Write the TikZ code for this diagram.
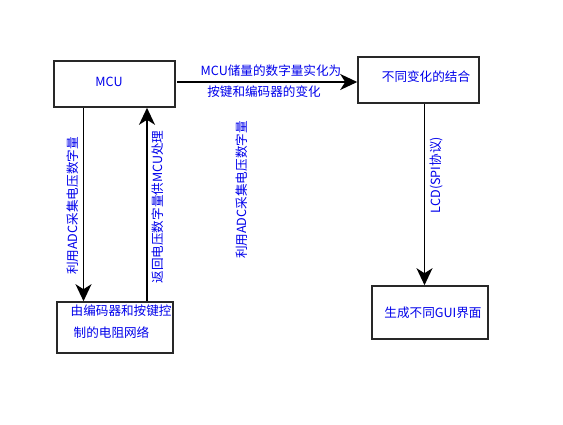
\documentclass[tikz,border=0pt]{standalone}
\usepackage{fontspec}
\setmainfont{Noto Sans CJK SC}
\usetikzlibrary{arrows.meta}
\definecolor{txtblue}{RGB}{0,0,235}
\definecolor{boxline}{RGB}{40,40,40}
\tikzset{
  box/.style={draw=boxline, line width=1.6pt, fill=white, rectangle, inner sep=0pt},
  lbl/.style={text=txtblue, font=\fontsize{12.6}{22}\selectfont, inner sep=0pt},
  arr/.style={line width=1.5pt, -{Stealth[length=17pt,width=16pt,inset=5pt]}},
}
\begin{document}
\begin{tikzpicture}[x=1pt,y=-1pt]
\useasboundingbox (0,0) rectangle (563,424);
% boxes
\node[box, minimum width=121pt, minimum height=46pt] (mcu) at (114.5,84) {};
\node[box, minimum width=121pt, minimum height=46pt] (comb) at (418.5,80) {};
\node[box, minimum width=116pt, minimum height=51pt] (ctrl) at (115,327.5) {};
\node[box, minimum width=116pt, minimum height=53pt] (gui) at (430,312.5) {};
% box texts
\node[lbl] (mcut) at (109,82) {MCU};
\node[lbl] (combt) at (426,77) {不同变化的结合};
\node[lbl, align=left, anchor=north west] (ctrlt) at (70.5,305) {由编码器和按键控\\\hspace{3pt}制的电阻网络};
\node[lbl] (guit) at (433,313) {生成不同GUI界面};
% helper coordinates
\coordinate (xdown) at (83.5,0);
\coordinate (xup) at (147,0);
\coordinate (xlcd) at (424.5,0);
\coordinate (hstart) at (177,82);
% connectors
\draw[arr] (hstart) -- (hstart -| comb.west);
\draw[arr] (mcu.south -| xdown) -- (ctrl.north -| xdown);
\draw[arr] (ctrl.north -| xup) -- (mcu.south -| xup);
\draw[arr] (comb.south -| xlcd) -- (gui.north -| xlcd);
% connector labels
\node[lbl] (toplbl1) at (271,71) {MCU储量的数字量实化为};
\node[lbl] (toplbl2) at (264,92) {按键和编码器的变化};
\node[lbl, rotate=90] (adcl) at (73,206) {利用ADC采集电压数字量};
\node[lbl, rotate=90] (retl) at (157.5,207) {返回电压数字量供MCU处理};
\node[lbl, rotate=90] (adcm) at (242,190) {利用ADC采集电压数字量};
\node[lbl, rotate=90] (lcdl) at (436,175) {LCD(SPI协议)};
\end{tikzpicture}
\end{document}
